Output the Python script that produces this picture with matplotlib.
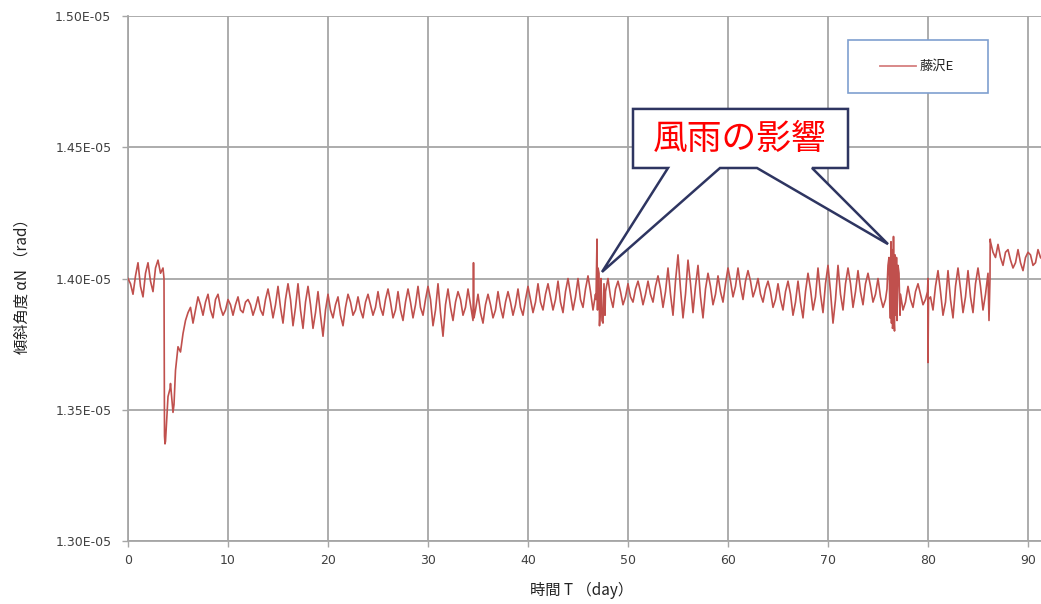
import matplotlib
matplotlib.use("Agg")
import matplotlib.pyplot as plt
from matplotlib.patches import Polygon, Rectangle
from matplotlib.lines import Line2D
import numpy as np

plt.rcParams['font.family'] = ['Noto Sans CJK JP', 'DejaVu Sans']

# Values in units of 1e-5 rad.
# Daily peak (t=d), falling mid (t=d+0.25), trough (t=d+0.5), rising mid (t=d+0.75)
day_peaks = [1.400, 1.406, 1.406, 1.407, 1.355, 1.374, 1.387, 1.393, 1.394, 1.394,
             1.392, 1.393, 1.392, 1.393, 1.396, 1.397, 1.398, 1.398, 1.397, 1.395,
             1.394, 1.393, 1.394, 1.393, 1.394, 1.395, 1.396, 1.395, 1.396, 1.397,
             1.397, 1.398, 1.396, 1.395, 1.396, 1.394, 1.394, 1.395, 1.395, 1.396,
             1.397, 1.398, 1.398, 1.399, 1.400, 1.400, 1.401, 1.404, 1.400, 1.399,
             1.398, 1.399, 1.399, 1.401, 1.404, 1.409, 1.407, 1.405, 1.402, 1.401,
             1.404, 1.404, 1.403, 1.400, 1.399, 1.398, 1.399, 1.399, 1.402, 1.404,
             1.405, 1.405, 1.404, 1.403, 1.402, 1.400, 1.405, 1.405, 1.397, 1.398,
             1.400, 1.403, 1.403, 1.404, 1.403, 1.404, 1.402, 1.413, 1.411, 1.411,
             1.410, 1.411]
day_mid_fall = [1.398, 1.397, 1.399, 1.402, 1.360, 1.372, 1.389, 1.390, 1.388, 1.389,
                1.390, 1.388, 1.390, 1.388, 1.391, 1.389, 1.392, 1.388, 1.390, 1.386,
                1.388, 1.386, 1.391, 1.388, 1.390, 1.389, 1.391, 1.388, 1.391, 1.389,
                1.392, 1.387, 1.389, 1.392, 1.390, 1.387, 1.390, 1.389, 1.391, 1.389,
                1.392, 1.391, 1.393, 1.391, 1.394, 1.392, 1.395, 1.390, 1.393, 1.395,
                1.393, 1.395, 1.394, 1.396, 1.394, 1.396, 1.398, 1.393, 1.397, 1.395,
                1.399, 1.397, 1.399, 1.394, 1.395, 1.392, 1.394, 1.391, 1.396, 1.394,
                1.395, 1.394, 1.398, 1.395, 1.397, 1.393, 1.400, 1.394, 1.392, 1.394,
                1.393, 1.395, 1.392, 1.396, 1.393, 1.397, 1.414, 1.408, 1.407, 1.406,
                1.409, 1.408]
day_troughs = [1.394, 1.393, 1.395, 1.404, 1.349, 1.379, 1.383, 1.386, 1.385, 1.386,
               1.386, 1.387, 1.386, 1.386, 1.385, 1.383, 1.382, 1.381, 1.381, 1.378,
               1.385, 1.382, 1.386, 1.385, 1.386, 1.386, 1.385, 1.384, 1.385, 1.386,
               1.382, 1.378, 1.384, 1.386, 1.384, 1.383, 1.385, 1.385, 1.386, 1.386,
               1.387, 1.388, 1.388, 1.387, 1.388, 1.389, 1.388, 1.383, 1.389, 1.390,
               1.391, 1.390, 1.391, 1.389, 1.386, 1.385, 1.387, 1.385, 1.390, 1.391,
               1.393, 1.392, 1.393, 1.391, 1.389, 1.388, 1.386, 1.385, 1.388, 1.387,
               1.383, 1.388, 1.389, 1.390, 1.391, 1.389, 1.382, 1.388, 1.389, 1.390,
               1.388, 1.386, 1.385, 1.387, 1.387, 1.388, 1.410, 1.405, 1.404, 1.403,
               1.405, 1.407]
day_mid_rise = [1.401, 1.402, 1.404, 1.338, 1.365, 1.384, 1.388, 1.391, 1.392, 1.388,
                1.390, 1.391, 1.389, 1.392, 1.390, 1.392, 1.389, 1.391, 1.387, 1.388,
                1.390, 1.389, 1.388, 1.391, 1.389, 1.392, 1.388, 1.391, 1.390, 1.392,
                1.388, 1.390, 1.391, 1.389, 1.388, 1.390, 1.388, 1.391, 1.390, 1.392,
                1.391, 1.394, 1.392, 1.395, 1.393, 1.396, 1.394, 1.395, 1.396, 1.393,
                1.396, 1.394, 1.397, 1.395, 1.399, 1.394, 1.397, 1.396, 1.394, 1.398,
                1.397, 1.399, 1.396, 1.396, 1.392, 1.395, 1.391, 1.395, 1.393, 1.398,
                1.392, 1.398, 1.395, 1.398, 1.394, 1.392, 1.395, 1.391, 1.395, 1.392,
                1.397, 1.391, 1.397, 1.393, 1.398, 1.394, 1.408, 1.410, 1.406, 1.408,
                1.406, 1.409]

# Isolated events (drop, storms, spikes, jump)
event_t = [3.6, 3.65, 3.7, 3.85, 4.2, 4.6,
           34.55, 34.6,
           46.8, 46.9, 46.95, 47.1, 47.15, 47.3, 47.4, 47.6, 47.7,
           75.9, 76.1, 76.2, 76.3, 76.35, 76.4, 76.45, 76.55, 76.6, 76.65, 76.7,
           76.8, 76.85, 76.9, 77.1, 77.2,
           79.95, 80.0, 80.05,
           86.1, 86.2, 86.22]
event_v = [1.400, 1.340, 1.337, 1.345, 1.358, 1.352,
           1.406, 1.385,
           1.392, 1.415, 1.388, 1.402, 1.382, 1.400, 1.384, 1.398, 1.386,
           1.396, 1.408, 1.385, 1.414, 1.383, 1.411, 1.381, 1.416, 1.384, 1.380, 1.409,
           1.386, 1.408, 1.384, 1.402, 1.386,
           1.395, 1.368, 1.392,
           1.384, 1.400, 1.415]

days = np.arange(len(day_peaks))
t = np.concatenate([days, days + 0.25, days + 0.5, days + 0.75, event_t])
v = np.concatenate([day_peaks, day_mid_fall, day_troughs, day_mid_rise, event_v]) * 1e-5
order = np.argsort(t, kind='stable')
t, v = t[order], v[order]

W, H = 1041, 604
fig = plt.figure(figsize=(W / 100, H / 100), dpi=100)
ax = fig.add_axes([128 / W, (H - 541) / H, (W - 128) / W, (541 - 16) / H])

ax.plot(t, v, color='#c0504d', lw=1.2, zorder=3)

ax.set_xlim(0, 91.3)
ax.set_ylim(1.30e-5, 1.50e-5)
ax.set_xticks(np.arange(0, 91, 10))
ax.set_yticks(np.arange(1.30e-5, 1.5001e-5, 0.05e-5))
ax.set_yticklabels([f"{y*1e5:.2f}E-05" for y in ax.get_yticks()])
ax.grid(True, color='#a6a6a6', lw=1.3, zorder=0)
for s in ['top', 'right']:
    ax.spines[s].set_visible(False)
for s in ['left', 'bottom']:
    ax.spines[s].set_color('#a6a6a6')
    ax.spines[s].set_linewidth(1.3)
ax.tick_params(axis='both', colors='#a6a6a6', labelcolor='#404040',
               labelsize=9, length=4, width=1, direction='out')
ax.tick_params(axis='x', pad=5)
ax.tick_params(axis='y', pad=8)
for lab in ax.get_xticklabels() + ax.get_yticklabels():
    lab.set_family('DejaVu Sans')

ax.set_ylabel('傾斜角度 αN （rad）', fontsize=11, color='#222222')
ax.yaxis.set_label_coords((31 - 128) / (W - 128), (541 - 283) / 525)
ax.set_xlabel('時間 T （day）', fontsize=11, color='#222222')
ax.xaxis.set_label_coords((582 - 128) / (W - 128), -(582 - 541) / 525)

# Legend box (drawn in figure pixel fractions)
fig.patches.append(Rectangle((848 / W, 1 - 93 / H), 140 / W, 53 / H,
                             transform=fig.transFigure, facecolor='white',
                             edgecolor='#7f9fcf', lw=1.2, zorder=5))
fig.lines.append(Line2D([880 / W, 916 / W], [1 - 66 / H, 1 - 66 / H],
                        transform=fig.transFigure, color='#d67f7f', lw=1.3, zorder=6))
fig.text(920 / W, 1 - 66 / H, '藤沢E', fontsize=9.5, color='#222222',
         ha='left', va='center', zorder=6)

# Callout box with two pointers
poly = [(50.5, 1.4646), (72.0, 1.4646), (72.0, 1.4421), (68.4, 1.4421), (76.0, 1.4131),
        (62.9, 1.4421), (59.2, 1.4421), (47.4, 1.4025), (54.0, 1.4421), (50.5, 1.4421)]
poly = [(x, y * 1e-5) for x, y in poly]
ax.add_patch(Polygon(poly, closed=True, facecolor='white', edgecolor='#2e3561',
                     lw=1.8, zorder=6))
ax.text(61.2, 1.4531e-5, '風雨の影響', color='#ff0000', fontsize=25,
        ha='center', va='center', zorder=7)

fig.savefig('out.png', dpi=100)
